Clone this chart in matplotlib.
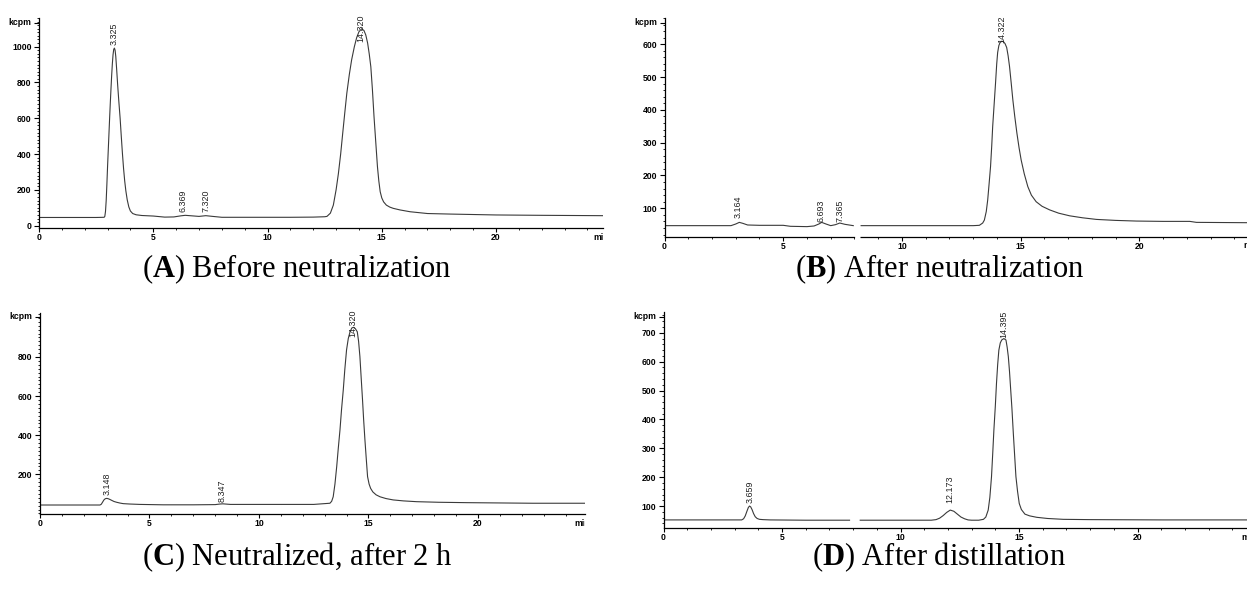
import matplotlib
matplotlib.use("Agg")
import matplotlib.pyplot as plt
from matplotlib.markers import TICKLEFT
from matplotlib.ticker import MultipleLocator, FixedLocator
from matplotlib.transforms import Bbox, TransformedBbox, blended_transform_factory

nan = float("nan")

# ---------------- data ----------------
x_ticks = [0, 5, 10, 15, 20]

# (A) Before neutralization
a_time = [0, 1, 2, 2.5, 2.85, 2.88, 2.91, 2.94, 2.97, 3.00, 3.03, 3.06, 3.09, 3.12, 3.15,
          3.18, 3.21, 3.24, 3.27, 3.30, 3.33, 3.36, 3.40, 3.44, 3.49, 3.55, 3.60, 3.65,
          3.70, 3.75, 3.80, 3.86, 3.93, 4.0, 4.1, 4.25, 4.5, 5.0, 5.5, 5.9, 6.2, 6.4,
          6.7, 7.0, 7.3, 7.6, 8.0, 9, 10, 11, 12, 12.5, 12.6, 12.75, 12.88, 13.0, 13.1,
          13.2, 13.29, 13.38, 13.47, 13.58, 13.68, 13.8, 13.9, 14.0, 14.12, 14.22, 14.3,
          14.38, 14.45, 14.52, 14.59, 14.66, 14.74, 14.81, 14.87, 14.93, 15.0, 15.08,
          15.2, 15.35, 15.5, 15.8, 16.24, 17, 18, 20, 22, 24.68]
a_signal = [46, 46, 46, 46, 47, 52, 80, 140, 230, 330, 420, 510, 600, 685, 765,
            840, 905, 955, 985, 992, 980, 945, 870, 790, 700, 600, 500, 405,
            320, 250, 195, 145, 105, 82, 68, 61, 57, 54, 48, 49, 55, 58,
            55, 52, 56, 52, 47, 47, 47, 47, 48, 50, 52, 70, 115, 200, 290,
            400, 516, 630, 740, 845, 926, 1000, 1050, 1083, 1100, 1090, 1065,
            1020, 960, 888, 760, 609, 460, 330, 250, 190, 155, 133,
            115, 104, 97, 88, 78, 68, 65, 60, 58, 56]
a_labels = ["3.325", "6.369", "7.320", "14.320"]
a_label_time = [3.29, 6.32, 7.31, 14.08]
a_label_level = [1010, 78, 75, 1028]

# (B) After neutralization
b_time = [0, 1, 2, 2.8, 3.0, 3.15, 3.3, 3.5, 4.0, 5.0, 5.3, 6.0, 6.3, 6.5, 6.62, 6.8, 7.0,
          7.2, 7.38, 7.6, 7.95, 8.1, 8.28, 9, 10, 11, 12, 13, 13.26, 13.4, 13.47, 13.55,
          13.61, 13.67, 13.73, 13.78, 13.82, 13.88, 13.94, 13.99, 14.03, 14.08, 14.13,
          14.2, 14.27, 14.34, 14.41, 14.47, 14.53, 14.6, 14.67, 14.75, 14.84, 14.93,
          15.02, 15.15, 15.3, 15.45, 15.65, 15.9, 16.22, 16.6, 17.06, 17.6, 18.19, 19,
          19.87, 21, 22.12, 22.4, 24.53]
b_signal = [47, 47, 47, 47, 52, 57, 54, 49, 48, 48, 45, 44, 46, 52, 57, 52, 47,
            50, 55, 51, 47, nan, 47, 47, 47, 47, 47, 47, 48, 55, 64, 90,
            125, 175, 227, 290, 349, 415, 481, 540, 575, 596, 605,
            609, 608, 602, 590, 565, 532, 482, 430, 380, 329, 285,
            247, 205, 166, 140, 120, 106, 95, 85, 77, 71, 66, 63,
            61, 60, 60, 57, 56]
b_labels = ["3.164", "6.693", "7.365", "14.322"]
b_label_time = [3.11, 6.60, 7.38, 14.22]
b_label_level = [69, 59, 59, 603]

# (C) Neutralized, after 2 h
c_time = [0, 1, 2, 2.74, 2.8, 2.86, 2.92, 2.98, 3.05, 3.12, 3.2, 3.27, 3.38, 3.5, 3.65,
          3.8, 4.1, 4.57, 5.63, 7, 8.0, 8.22, 8.35, 8.7, 9.5, 11, 12.5, 13.24, 13.32,
          13.39, 13.47, 13.55, 13.62, 13.7, 13.77, 13.85, 13.92, 14.0, 14.08, 14.16,
          14.24, 14.31, 14.4, 14.49, 14.55, 14.61, 14.67, 14.73, 14.78, 14.84, 14.9,
          14.96, 15.03, 15.1, 15.2, 15.35, 15.53, 15.8, 16.13, 16.6, 17.2, 18.2, 19.5,
          22.5, 24.89]
c_signal = [43, 43, 43, 43, 47, 58, 69, 75, 77, 75, 71, 67, 61, 57, 53,
            50, 48, 46, 44, 44, 45, 48, 49, 46, 46, 46, 46, 52, 62,
            85, 150, 239, 330, 427, 530, 631, 735, 836, 895, 929,
            948, 952, 945, 929, 880, 802, 690, 580, 480, 375, 280,
            188, 150, 128, 110, 95, 85, 76, 69, 64, 60, 57, 55,
            52, 52]
c_labels = ["3.148", "8.347", "14.320"]
c_label_time = [3.05, 8.30, 14.28]
c_label_level = [94, 60, 904]

# (D) After distillation
d_time = [0, 1, 2, 3.3, 3.38, 3.45, 3.52, 3.58, 3.63, 3.68, 3.74, 3.8, 3.87, 3.95, 4.05,
          4.2, 4.5, 6, 7.85, 8.05, 8.3, 10, 11.3, 11.5, 11.65, 11.8, 11.95, 12.1, 12.25,
          12.4, 12.55, 12.7, 12.85, 13.0, 13.3, 13.5, 13.6, 13.7, 13.77, 13.84, 13.89,
          13.94, 14.0, 14.05, 14.1, 14.15, 14.21, 14.27, 14.36, 14.45, 14.5, 14.55, 14.6,
          14.65, 14.7, 14.76, 14.82, 14.87, 14.94, 15.01, 15.1, 15.25, 15.45, 15.75,
          16.2, 16.87, 18, 21.1, 24.62]
d_signal = [52, 52, 52, 52, 56, 66, 82, 95, 100, 97, 87, 74, 63, 57, 54,
            53, 52, 51, 51, nan, 51, 51, 51, 53, 58, 67, 78, 86, 82,
            72, 62, 56, 52, 51, 51, 54, 62, 86, 130, 202, 280,
            363, 445, 525, 590, 640, 665, 675, 680, 675, 650, 617, 565,
            502, 440, 352, 270, 202, 150, 109, 88, 72, 66, 61,
            57, 54, 53, 52, 52]
d_labels = ["3.659", "12.173", "14.395"]
d_label_time = [3.64, 12.10, 14.35]
d_label_level = [109, 109, 681]

captions = [r"($\mathbf{A}$) Before neutralization", r"($\mathbf{B}$) After neutralization",
            r"($\mathbf{C}$) Neutralized, after 2 h", r"($\mathbf{D}$) After distillation"]

# ---------------- style ----------------
plt.rcParams["font.family"] = ["Liberation Sans", "DejaVu Sans"]
plt.rcParams["mathtext.fontset"] = "custom"
plt.rcParams["mathtext.rm"] = "Liberation Serif"
plt.rcParams["mathtext.bf"] = "Liberation Serif:bold"

W, H = 1247, 595
fig = plt.figure(figsize=(W / 100, H / 100), dpi=100)
TRACE = "#3a3a3a"
TICK_FS = 6.2


def panel(rect, xlim, ylim, yticks, time, signal, labels, lt, lv, kcpm_level, min_x,
          axis_gap=None):
    l, r, t, b = rect
    ax = fig.add_axes([l / W, 1 - b / H, (r - l) / W, (b - t) / H])
    ax.set_xlim(*xlim)
    ax.set_ylim(*ylim)
    ax.plot(time, signal, color=TRACE, lw=0.8, solid_joinstyle="round")
    for s in ("top", "right"):
        ax.spines[s].set_visible(False)
    for s in ("left", "bottom"):
        ax.spines[s].set_linewidth(0.9)
    ax.xaxis.set_major_locator(FixedLocator(x_ticks))
    ax.xaxis.set_minor_locator(MultipleLocator(1))
    ax.yaxis.set_major_locator(FixedLocator(yticks))
    ax.yaxis.set_minor_locator(MultipleLocator(20))
    ax.tick_params(axis="x", which="major", length=2.9, width=0.8, pad=1.0,
                   labelsize=TICK_FS)
    ax.tick_params(axis="y", which="major", length=3.4, width=0.8, pad=1.9,
                   labelsize=TICK_FS)
    ax.tick_params(which="minor", length=1.5, width=0.6)
    for lab in ax.get_xticklabels() + ax.get_yticklabels():
        lab.set_fontweight("bold")
    if axis_gap is not None:
        ax.spines["bottom"].set_bounds(xlim[0], axis_gap[0])
        bt = blended_transform_factory(ax.transData, ax.transAxes)
        ax.plot([axis_gap[1], xlim[1]], [0, 0], transform=bt, color="black", lw=0.9,
                clip_on=False, solid_capstyle="butt")
    for txt, x, y in zip(labels, lt, lv):
        ax.text(x, y, txt, rotation=90, ha="center", va="bottom", fontsize=6.4,
                color="#222222")
    ax.annotate("kcpm", xy=(0, kcpm_level), xycoords=("axes fraction", "data"),
                xytext=(-5.3, 0), textcoords="offset points", ha="right", va="center",
                fontsize=TICK_FS, fontweight="bold")
    ax.plot([0], [kcpm_level], marker=TICKLEFT, markersize=3.4, markeredgewidth=0.8,
            color="black",
            transform=blended_transform_factory(ax.transAxes, ax.transData), clip_on=False)
    mt = ax.annotate("min", xy=(min_x, 0), xycoords=("data", "axes fraction"),
                     xytext=(0, -6.5), textcoords="offset points", ha="left", va="center",
                     fontsize=TICK_FS, fontweight="bold")
    clip = TransformedBbox(Bbox([[0, 0], [1, 1]]),
                           blended_transform_factory(ax.transAxes, fig.transFigure))
    mt.set_clip_box(clip)
    mt.set_clip_on(True)
    return ax


panel((39, 603, 18, 228), (0, 24.68), (-12.8, 1160), [0, 200, 400, 600, 800, 1000],
      a_time, a_signal, a_labels, a_label_time, a_label_level, 1134, 24.25)
panel((664.5, 1247, 18, 236.8), (0, 24.53), (13, 680), [100, 200, 300, 400, 500, 600],
      b_time, b_signal, b_labels, b_label_time, b_label_level, 666, 24.37,
      axis_gap=(7.99, 8.24))
panel((40, 585, 312.6, 514), (0, 24.89), (-3, 1027), [200, 400, 600, 800],
      c_time, c_signal, c_labels, c_label_time, c_label_level, 1006, 24.4)
panel((663.5, 1247, 311.7, 528), (0, 24.62), (24, 773), [100, 200, 300, 400, 500, 600, 700],
      d_time, d_signal, d_labels, d_label_time, d_label_level, 755, 24.4)

caption_pos = [(297, 269), (940, 269), (297, 557), (939, 557)]
for cap, (cx, cy) in zip(captions, caption_pos):
    fig.text(cx / W, 1 - cy / H, cap, ha="center", va="center", fontsize=22,
             family="Liberation Serif")

fig.savefig("out.png", dpi=100)
